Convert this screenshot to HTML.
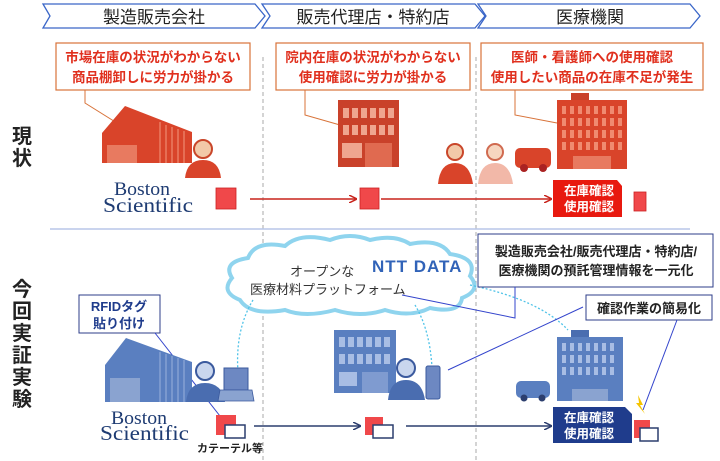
<!DOCTYPE html>
<html><head><meta charset="utf-8"><style>
html,body{margin:0;padding:0;background:#fff;}
svg{display:block;font-family:"Liberation Sans","Noto Sans CJK JP",sans-serif;}
</style></head><body>
<svg width="720" height="461" viewBox="0 0 720 461" xmlns="http://www.w3.org/2000/svg">
<defs>
<marker id="ar" markerWidth="8" markerHeight="8" refX="7" refY="4" orient="auto" markerUnits="userSpaceOnUse"><path d="M0,0 L8,4 L0,8" fill="none" stroke="#c8241c" stroke-width="1.5"/></marker>
<marker id="ab" markerWidth="8" markerHeight="8" refX="7" refY="4" orient="auto" markerUnits="userSpaceOnUse"><path d="M0,0 L8,4 L0,8" fill="none" stroke="#2c3e6e" stroke-width="1.5"/></marker>
</defs>
<g fill="#fff" stroke="#3a66c8" stroke-width="1.3">
<polygon points="43,4 255,4 265,16 255,28 43,28 50,16"/>
<polygon points="262,4 475,4 485,16 475,28 262,28 270,16"/>
<polygon points="478,4 690,4 700,16 690,28 478,28 486,16"/>
</g>
<g font-size="17" fill="#222" text-anchor="middle">
<text x="154" y="23">製造販売会社</text>
<text x="373" y="23">販売代理店・特約店</text>
<text x="590" y="23">医療機関</text>
</g>
<g stroke="#aaa" stroke-dasharray="4,3" stroke-width="1">
<line x1="263" y1="57" x2="263" y2="461"/>
<line x1="476" y1="57" x2="476" y2="461"/>
</g>
<line x1="50" y1="229" x2="690" y2="229" stroke="#b8c6e8" stroke-width="1.5"/>
<g fill="#fff" stroke="#d8733a" stroke-width="1.2">
<rect x="56" y="43" width="194" height="47"/>
<rect x="276" y="43" width="194" height="47"/>
<rect x="481" y="43" width="222" height="47"/>
</g>
<g font-size="13.5" font-weight="bold" fill="#e0301e" text-anchor="middle">
<text x="153" y="62">市場在庫の状況がわからない</text>
<text x="153" y="82">商品棚卸しに労力が掛かる</text>
<text x="373" y="62">院内在庫の状況がわからない</text>
<text x="373" y="82">使用確認に労力が掛かる</text>
<text x="592" y="62">医師・看護師への使用確認</text>
<text x="592" y="82">使用したい商品の在庫不足が発生</text>
</g>
<g stroke="#d8733a" fill="none" stroke-width="1">
<polyline points="85,90 85,103 125,128"/>
<polyline points="305,90 305,115 340,125"/>
<polyline points="515,90 515,115 557,123"/>
</g>
<g font-size="20" font-weight="bold" fill="#222"><text x="12" y="143">現</text><text x="12" y="165">状</text></g>
<polygon points="102,133 125,106 192,132 192,163 102,163" fill="#d9442a"/>
<g stroke="#f08a70" stroke-width="1.2"><line x1="160" y1="122" x2="160" y2="163"/><line x1="166" y1="125" x2="166" y2="163"/><line x1="172" y1="127" x2="172" y2="163"/><line x1="178" y1="129" x2="178" y2="163"/><line x1="184" y1="131" x2="184" y2="163"/></g>
<rect x="107" y="145" width="30" height="18" fill="#e87a60"/>
<circle cx="203" cy="149" r="9" fill="#f2c9a8" stroke="#c9462a" stroke-width="2"/>
<path d="M185,178 Q187,160 203,160 Q219,160 221,178 Z" fill="#d9442a"/>
<g fill="#1f3c73" font-family="Liberation Serif,serif"><text x="114" y="195" font-size="19" textLength="56" lengthAdjust="spacingAndGlyphs">Boston</text><text x="103" y="212" font-size="21" textLength="90" lengthAdjust="spacingAndGlyphs">Scientific</text></g>
<rect x="216" y="188" width="20" height="21" fill="#f0484a" stroke="#c22" stroke-width="0.8"/>
<line x1="250" y1="199" x2="356" y2="199" stroke="#c8241c" stroke-width="1.5" marker-end="url(#ar)"/>
<rect x="360" y="188" width="19" height="21" fill="#f0484a" stroke="#c22" stroke-width="0.8"/>
<line x1="381" y1="199" x2="551" y2="199" stroke="#c8241c" stroke-width="1.5" marker-end="url(#ar)"/>
<polygon points="553,180 617,180 622,186 622,217 553,217" fill="#e8190f"/>
<g font-size="12.5" font-weight="bold" fill="#fff"><text x="564" y="195">在庫確認</text><text x="564" y="211">使用確認</text></g>
<rect x="634" y="192" width="12" height="19" fill="#f0484a" stroke="#c22" stroke-width="0.8"/>
<rect x="338" y="100" width="61" height="67" fill="#c9412a"/>
<g fill="#efa58f">
<rect x="343" y="108" width="6" height="10"/><rect x="352" y="108" width="6" height="10"/><rect x="361" y="108" width="6" height="10"/><rect x="370" y="108" width="6" height="10"/><rect x="379" y="108" width="6" height="10"/><rect x="388" y="108" width="6" height="10"/>
<rect x="343" y="125" width="6" height="10"/><rect x="352" y="125" width="6" height="10"/><rect x="361" y="125" width="6" height="10"/><rect x="370" y="125" width="6" height="10"/><rect x="379" y="125" width="6" height="10"/><rect x="388" y="125" width="6" height="10"/>
<rect x="342" y="143" width="20" height="15"/></g>
<rect x="365" y="143" width="27" height="24" fill="#e06a50"/>
<circle cx="455" cy="152" r="8" fill="#f2c9a8" stroke="#c9462a" stroke-width="2"/>
<path d="M438,184 Q440,163 455,163 Q470,163 473,184 Z" fill="#d9442a"/>
<circle cx="495" cy="152" r="8" fill="#f6d6c0" stroke="#d06a50" stroke-width="2"/>
<path d="M478,184 Q480,163 495,163 Q510,163 513,184 Z" fill="#f2b8a8"/>
<rect x="515" y="148" width="36" height="20" rx="5" fill="#d9442a"/>
<circle cx="524" cy="168" r="4" fill="#a22"/><circle cx="543" cy="168" r="4" fill="#a22"/>
<rect x="571" y="93" width="18" height="7" fill="#c9412a"/>
<rect x="557" y="100" width="70" height="69" fill="#d9442a"/>
<g fill="#f08a70">
<rect x="562" y="106" width="4" height="8"/><rect x="570" y="106" width="4" height="8"/><rect x="578" y="106" width="4" height="8"/><rect x="586" y="106" width="4" height="8"/><rect x="594" y="106" width="4" height="8"/><rect x="602" y="106" width="4" height="8"/><rect x="610" y="106" width="4" height="8"/><rect x="618" y="106" width="4" height="8"/>
<rect x="562" y="118" width="4" height="8"/><rect x="570" y="118" width="4" height="8"/><rect x="578" y="118" width="4" height="8"/><rect x="586" y="118" width="4" height="8"/><rect x="594" y="118" width="4" height="8"/><rect x="602" y="118" width="4" height="8"/><rect x="610" y="118" width="4" height="8"/><rect x="618" y="118" width="4" height="8"/>
<rect x="562" y="130" width="4" height="8"/><rect x="570" y="130" width="4" height="8"/><rect x="578" y="130" width="4" height="8"/><rect x="586" y="130" width="4" height="8"/><rect x="594" y="130" width="4" height="8"/><rect x="602" y="130" width="4" height="8"/><rect x="610" y="130" width="4" height="8"/><rect x="618" y="130" width="4" height="8"/>
<rect x="562" y="142" width="4" height="8"/><rect x="570" y="142" width="4" height="8"/><rect x="578" y="142" width="4" height="8"/><rect x="586" y="142" width="4" height="8"/><rect x="594" y="142" width="4" height="8"/><rect x="602" y="142" width="4" height="8"/><rect x="610" y="142" width="4" height="8"/><rect x="618" y="142" width="4" height="8"/>
</g>
<rect x="573" y="156" width="38" height="13" fill="#e87a60"/>

<g font-size="20" font-weight="bold" fill="#222">
<text x="12" y="296">今</text><text x="12" y="318">回</text><text x="12" y="340">実</text><text x="12" y="362">証</text><text x="12" y="384">実</text><text x="12" y="406">験</text></g>
<path d="M240,300 Q220,292 232,278 Q222,262 248,258 Q255,240 285,246 Q300,232 330,240 Q350,232 370,240 Q395,234 410,244 Q440,238 450,254 Q478,258 470,276 Q482,290 462,298 Q460,314 430,308 Q410,318 385,310 Q360,318 335,310 Q305,318 285,310 Q250,316 240,300 Z" fill="#fff" stroke="#8fd4ee" stroke-width="4"/>
<text x="372" y="272" font-size="17" font-weight="bold" fill="#3163b8" letter-spacing="1">NTT DATA</text>
<g font-size="13" fill="#333"><text x="290" y="276">オープンな</text><text x="250" y="294">医療材料プラットフォーム</text></g>
<g fill="none" stroke="#4fc3e8" stroke-width="1.3" stroke-dasharray="2,2">
<path d="M253,300 Q235,330 238,372"/>
<path d="M415,305 Q430,330 432,368"/>
<path d="M470,285 Q540,300 568,330"/>
</g>
<rect x="478" y="234" width="235" height="53" fill="#fff" stroke="#2d3d8a" stroke-width="1"/>
<g font-size="13" font-weight="bold" fill="#222" text-anchor="middle"><text x="596" y="256">製造販売会社/販売代理店・特約店/</text><text x="596" y="275">医療機関の預託管理情報を一元化</text></g>
<rect x="586" y="295" width="126" height="25" fill="#fff" stroke="#2d3d8a" stroke-width="1"/>
<text x="649" y="313" font-size="13" font-weight="bold" fill="#222" text-anchor="middle">確認作業の簡易化</text>
<rect x="79" y="295" width="81" height="38" fill="#fff" stroke="#2d3d8a" stroke-width="1"/>
<g font-size="13" font-weight="bold" fill="#1f3c8c" text-anchor="middle"><text x="119" y="311">RFIDタグ</text><text x="119" y="328">貼り付け</text></g>
<g stroke="#3344cc" fill="none" stroke-width="1">
<polyline points="402,295 515,318 515,287"/>
<line x1="448" y1="370" x2="583" y2="307"/>
<line x1="677" y1="320" x2="643" y2="410"/>
<line x1="155" y1="333" x2="227" y2="425"/>
</g>
<polygon points="105,365 126,338 192,362 192,402 105,402" fill="#5a7fc0"/>
<g stroke="#8fa9d8" stroke-width="1.2"><line x1="160" y1="352" x2="160" y2="402"/><line x1="166" y1="354" x2="166" y2="402"/><line x1="172" y1="356" x2="172" y2="402"/><line x1="178" y1="358" x2="178" y2="402"/><line x1="184" y1="360" x2="184" y2="402"/></g>
<rect x="110" y="378" width="30" height="24" fill="#8aa3d0"/>
<circle cx="205" cy="371" r="9" fill="#c9d6ee" stroke="#3b5a9e" stroke-width="2"/>
<path d="M186,402 Q188,383 205,383 Q222,383 225,402 Z" fill="#4a6db0"/>
<rect x="224" y="368" width="24" height="22" fill="#6d88c2" stroke="#3b5a9e"/>
<polygon points="220,390 252,390 254,401 218,401" fill="#8aa3d0" stroke="#3b5a9e" stroke-width="0.8"/>
<g fill="#1f3c73" font-family="Liberation Serif,serif"><text x="111" y="424" font-size="19" textLength="56" lengthAdjust="spacingAndGlyphs">Boston</text><text x="100" y="440" font-size="21" textLength="89" lengthAdjust="spacingAndGlyphs">Scientific</text></g>
<rect x="216" y="415" width="20" height="20" fill="#f0484a"/>
<rect x="225" y="425" width="20" height="13" fill="#fff" stroke="#2c3e6e" stroke-width="1.5"/>
<text x="197" y="452" font-size="11" font-weight="bold" fill="#222">カテーテル等</text>
<line x1="254" y1="426" x2="360" y2="426" stroke="#2c3e6e" stroke-width="1.5" marker-end="url(#ab)"/>
<rect x="365" y="417" width="18" height="18" fill="#f0484a"/>
<rect x="373" y="425" width="20" height="13" fill="#fff" stroke="#2c3e6e" stroke-width="1.5"/>
<line x1="406" y1="426" x2="551" y2="426" stroke="#2c3e6e" stroke-width="1.5" marker-end="url(#ab)"/>
<polygon points="553,407 625,407 632,414 632,443 553,443" fill="#1f3c8c"/>
<g font-size="12.5" font-weight="bold" fill="#fff"><text x="564" y="422">在庫確認</text><text x="564" y="438">使用確認</text></g>
<rect x="634" y="420" width="16" height="18" fill="#f0484a"/>
<rect x="640" y="428" width="18" height="13" fill="#fff" stroke="#2c3e6e" stroke-width="1.5"/>
<polygon points="638,395 643,405 640,405 645,414 636,403 639,403" fill="#f5c400"/>
<rect x="334" y="330" width="62" height="63" fill="#5a7fc0"/>
<g fill="#a8bde4">
<rect x="339" y="337" width="6" height="10"/><rect x="348" y="337" width="6" height="10"/><rect x="357" y="337" width="6" height="10"/><rect x="366" y="337" width="6" height="10"/><rect x="375" y="337" width="6" height="10"/><rect x="384" y="337" width="6" height="10"/>
<rect x="339" y="354" width="6" height="10"/><rect x="348" y="354" width="6" height="10"/><rect x="357" y="354" width="6" height="10"/><rect x="366" y="354" width="6" height="10"/><rect x="375" y="354" width="6" height="10"/><rect x="384" y="354" width="6" height="10"/>
<rect x="339" y="372" width="18" height="14"/></g>
<rect x="362" y="372" width="26" height="21" fill="#7f9bd0"/>
<circle cx="406" cy="368" r="9" fill="#c9d6ee" stroke="#3b5a9e" stroke-width="2"/>
<path d="M388,400 Q390,380 406,380 Q422,380 425,400 Z" fill="#4a6db0"/>
<rect x="426" y="366" width="14" height="33" rx="2" fill="#6d88c2" stroke="#3b5a9e"/>
<rect x="571" y="330" width="18" height="7" fill="#4a6db0"/>
<rect x="557" y="337" width="66" height="64" fill="#5a7fc0"/>
<g fill="#a8bde4">
<rect x="562" y="343" width="4" height="8"/><rect x="570" y="343" width="4" height="8"/><rect x="578" y="343" width="4" height="8"/><rect x="586" y="343" width="4" height="8"/><rect x="594" y="343" width="4" height="8"/><rect x="602" y="343" width="4" height="8"/><rect x="610" y="343" width="4" height="8"/>
<rect x="562" y="355" width="4" height="8"/><rect x="570" y="355" width="4" height="8"/><rect x="578" y="355" width="4" height="8"/><rect x="586" y="355" width="4" height="8"/><rect x="594" y="355" width="4" height="8"/><rect x="602" y="355" width="4" height="8"/><rect x="610" y="355" width="4" height="8"/>
<rect x="562" y="367" width="4" height="8"/><rect x="570" y="367" width="4" height="8"/><rect x="578" y="367" width="4" height="8"/><rect x="586" y="367" width="4" height="8"/><rect x="594" y="367" width="4" height="8"/><rect x="602" y="367" width="4" height="8"/><rect x="610" y="367" width="4" height="8"/>
</g>
<rect x="572" y="389" width="36" height="12" fill="#8aa3d0"/>
<rect x="516" y="381" width="34" height="17" rx="5" fill="#5a7fc0"/>
<circle cx="524" cy="398" r="3.5" fill="#2c3e6e"/><circle cx="542" cy="398" r="3.5" fill="#2c3e6e"/>
</svg>
</body></html>
